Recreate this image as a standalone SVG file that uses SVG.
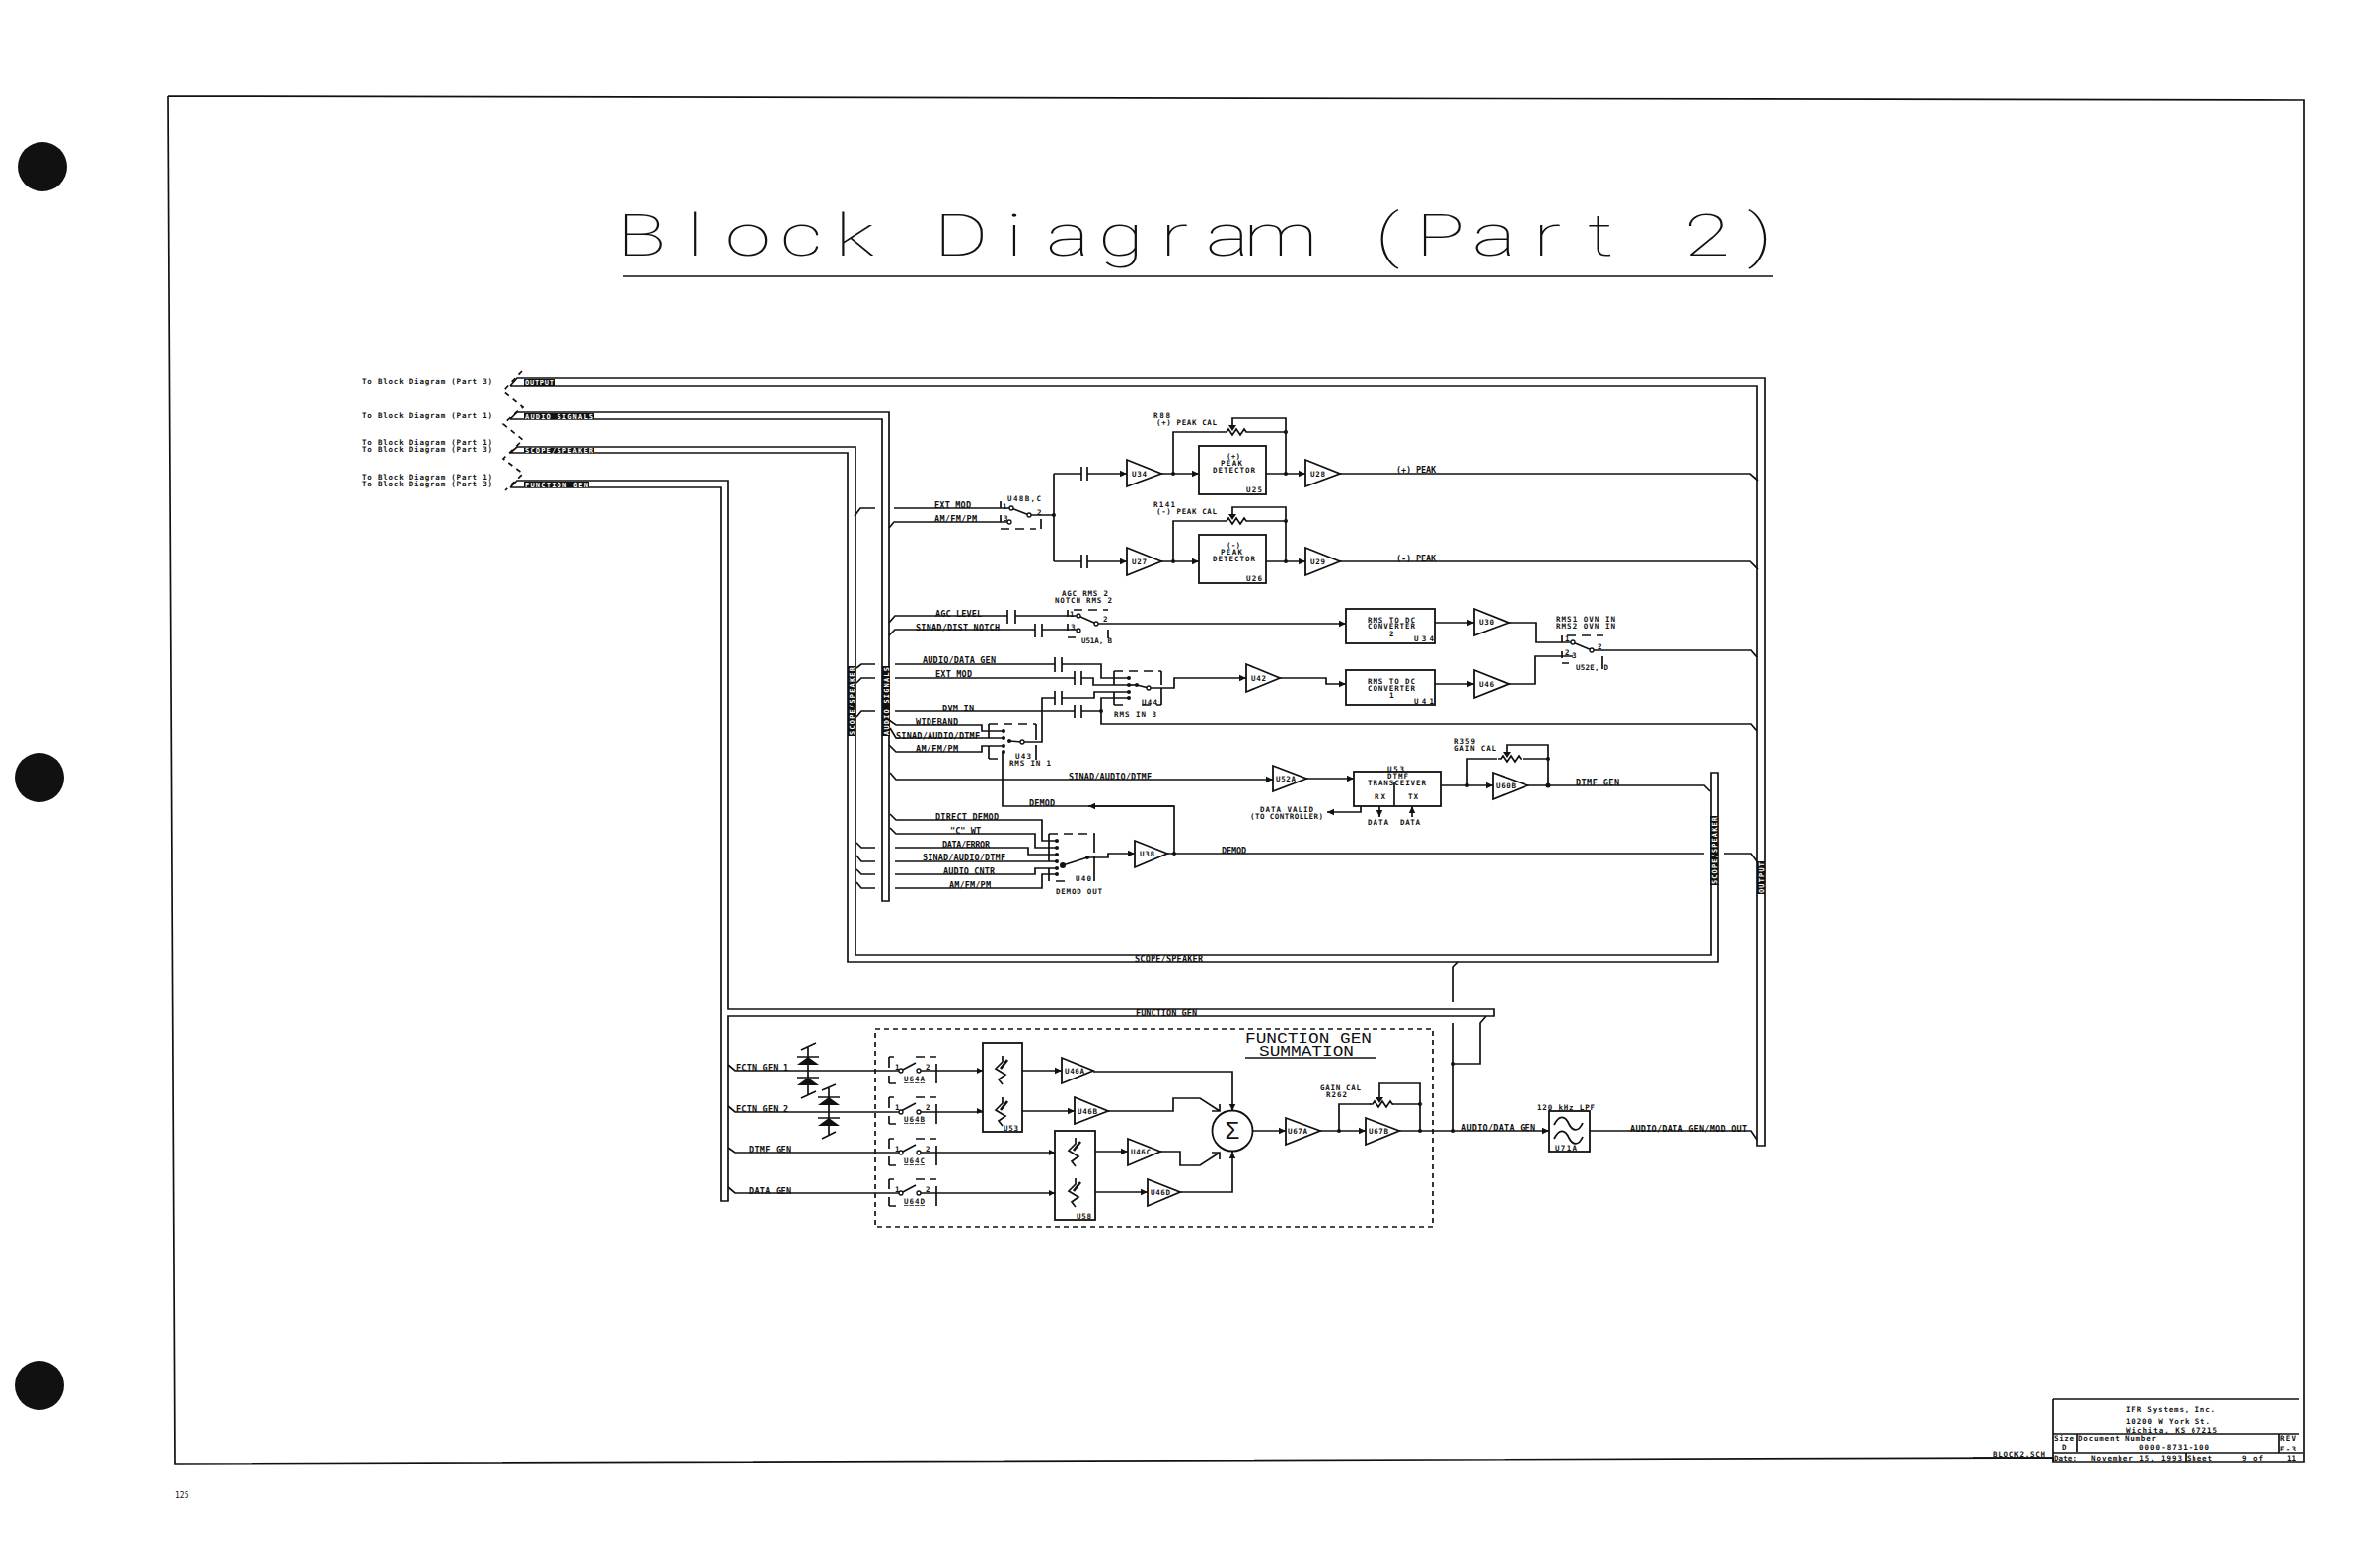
<svg xmlns="http://www.w3.org/2000/svg" width="2412" height="1584" viewBox="0 0 2412 1584">
<style>
text{font-family:"DejaVu Sans Mono","Liberation Mono",monospace;fill:#111}
.b{font-size:8.5px;font-weight:700}
.n{font-size:8px}
.s{font-size:7.5px;font-weight:700}
.w{font-size:7px;font-weight:700;fill:#fff}
.f{font-size:15px;font-family:"Liberation Mono",monospace;font-weight:400}
.ti{font-family:Roboto,"Liberation Sans",sans-serif;font-size:60px;font-weight:100;text-anchor:middle}
.l,.c path,.c use{fill:none;stroke:#111;stroke-width:1.7}
.th{fill:none;stroke:#111;stroke-width:1.3}
.amp,.box{fill:#fff;stroke:#111;stroke-width:1.8}
.ds{fill:none;stroke:#111;stroke-width:1.6;stroke-dasharray:9 6}
.dd{fill:none;stroke:#111;stroke-width:1.7;stroke-dasharray:5 4}
.d{fill:#111}
.o{fill:#fff;stroke:#111;stroke-width:1.3}
.k{fill:#111;stroke:none}
</style>
<defs>
<marker id="a" markerUnits="userSpaceOnUse" markerWidth="8" markerHeight="8" refX="7" refY="4" orient="auto"><path d="M0 .8L7 4L0 7.2Z" fill="#111"/></marker>
<path id="pot" d="M0 0l3 0l2 -3l4 6l4 -6l4 6l4 -6l2 3l1 0" class="l"/>
<g id="att"><path class="l" d="M1 -14L1 -8L-6 -1L4 5L-3 10L1 15"/><path class="l" style="stroke-width:2.6" d="M-1 -1L6 -10"/></g>
</defs>
<rect width="2412" height="1584" fill="#fff"/>
<g id="sheet-marks"><circle class="d" cx="43" cy="169" r="25"/><circle class="d" cx="40" cy="788" r="25"/><circle class="d" cx="40" cy="1404" r="25"/></g>
<g id="frame"><path class="l" d="M170 97L2335 101V1482H2081V1478L177 1484L170 97"/></g>
<g id="title"><text class="ti" transform="scale(1.4 1)" x="464.300 502.900 541.400 580 618.600 657.100 695.700 734.300 772.900 811.400 850 888.600 927.100 965.700 1004.300 1042.900 1081.400 1120 1158.600 1197.100 1235.700 1274.300" y="259">Block Diagram (Part 2)</text><path class="l" d="M631 280H1797"/></g>

<g id="connectors" class="c">
<!-- buses -->
<path d="M517 391L524 383H1789V1161H1781V391H517"/>
<path d="M517 425L524 418H901V913H894V425H517"/>
<path d="M517 459L524 453H867V968H1734V783H1741V975H859V459H517"/>
<path d="M517 494L524 487H738V1023H1514V1030H738V1217H731V494H517"/>
<path style="stroke-dasharray:5 5" d="M529 376L510 396L530 412L510 430L530 446L510 465L530 480L512 497"/>
<!-- stubs and peak path -->
<path d="M866 523L872 515H887M906 515H1025"/>
<path d="M901 535L906 529H1023"/>
<path d="M1043 522H1068M1068 480V569M1068 480H1096M1068 569H1096"/>
<path d="M1102 480H1142" marker-end="url(#a)"/>
<path d="M1102 569H1142" marker-end="url(#a)"/>
<path d="M1177 480H1215" marker-end="url(#a)"/>
<path d="M1177 569H1215" marker-end="url(#a)"/>
<path d="M1283 480H1323" marker-end="url(#a)"/>
<path d="M1283 569H1323" marker-end="url(#a)"/>
<path d="M1358 480H1774L1782 487M1358 569H1774L1782 577"/>
<path d="M1189 480V438H1240M1264 438H1303V480M1303 438V424H1249V433"/>
<path d="M1189 569V528H1240M1264 528H1303V569M1303 528V514H1249V523"/>
<!-- AGC -->
<path d="M901 631L907 624H1021M1029 624H1093"/>
<path d="M901 644L907 638H1049M1056 638H1093"/>
<path d="M1111 632H1364" marker-end="url(#a)"/>
<path d="M1454 631H1494" marker-end="url(#a)"/>
<path d="M1454 693H1494" marker-end="url(#a)"/>
<path d="M1529 631H1557V651H1594M1529 693H1556V665H1594M1613 659H1775L1781 666"/>
<!-- U44 -->
<path d="M868 677L873 673H887M907 673H1069M1076 673H1116V687H1144"/>
<path d="M868 692L873 687H887M907 687H1089M1096 687H1108V694H1144"/>
<path d="M868 727L873 721H887M907 721H1089M1096 721H1116V707H1144M1116 721V734H1775L1781 741"/>
<path d="M1036 752H1056V707H1069M1076 707H1109V701H1144"/>
<path d="M1164 697H1190V687H1263" marker-end="url(#a)"/>
<path d="M1297 687H1344V693H1364" marker-end="url(#a)"/>
<!-- U43 -->
<path d="M901 730L908 735H995V741H1017"/>
<path d="M902 738L908 748H1017"/>
<path d="M901 755L908 762H995V756H1017"/>
<path d="M1016 762V817H1190V865"/>
<path d="M1190 817H1103" marker-end="url(#a)"/>
<path d="M902 783L908 790H1290" marker-end="url(#a)"/>
<path d="M1324 789H1372" marker-end="url(#a)"/>
<path d="M1460 796H1513" marker-end="url(#a)"/>
<path d="M1548 796H1727L1733 802M1487 796V769H1517M1543 769H1569V796M1569 769V755H1527V765"/>
<path d="M1379 817V823H1345" marker-end="url(#a)"/>
<path d="M1398 817V828" marker-end="url(#a)"/>
<path d="M1431 828V817" marker-end="url(#a)"/>
<!-- U40 -->
<path d="M902 825L908 831H1056V852H1071"/>
<path d="M902 839L908 845H1049V859H1071"/>
<path d="M868 854L873 859H887M907 859H1042V866H1071"/>
<path d="M868 867L873 873H887M907 873H1071"/>
<path d="M868 881L873 886H887M907 886H1049V880H1071"/>
<path d="M868 894L873 900H887M907 900H1056V886H1071"/>
<path d="M1102 869H1123V865H1150" marker-end="url(#a)"/>
<path d="M1183 865H1727M1747 865H1775L1781 873"/>
<!-- function gen -->
<path d="M738 1079L745 1085H913M931 1085H996" />
<path d="M738 1121L745 1127H913M931 1127H996"/>
<path d="M738 1163L745 1168H913M931 1168H1069"/>
<path d="M738 1203L745 1209H913M931 1209H1069"/>
<path d="M1036 1085H1076" marker-end="url(#a)"/>
<path d="M1036 1126H1089" marker-end="url(#a)"/>
<path d="M1110 1167H1143" marker-end="url(#a)"/>
<path d="M1110 1208H1163" marker-end="url(#a)"/>
<path d="M1108 1086H1249V1126" marker-end="url(#a)"/>
<path d="M1196 1208H1249V1167" marker-end="url(#a)"/>
<path d="M1123 1126H1189V1113H1216L1236 1126M1236 1119V1126H1228"/>
<path d="M1176 1167H1196V1181H1216L1236 1168M1236 1175V1168H1228"/>
<path d="M1270 1146H1303" marker-end="url(#a)"/>
<path d="M1338 1146H1384" marker-end="url(#a)"/>
<path d="M1418 1146H1570" marker-end="url(#a)"/>
<path d="M1357 1146V1119H1389M1411 1119H1439V1146M1439 1119V1098H1398V1115"/>
<path d="M1478 975L1473 980V1015M1473 1037V1146M1473 1078H1500V1037L1506 1030"/>
<path d="M1611 1146H1775L1781 1155"/>
</g>

<g id="bus-labels">
<rect class="k" x="531" y="384" width="31" height="7"/><text class="w" x="532" y="390" textLength="29">OUTPUT</text>
<rect class="k" x="531" y="419" width="71" height="6"/><text class="w" x="532" y="425" textLength="69">AUDIO SIGNALS</text>
<rect class="k" x="531" y="454" width="71" height="5"/><text class="w" x="532" y="459" textLength="69">SCOPE/SPEAKER</text>
<rect class="k" x="531" y="488" width="66" height="6"/><text class="w" x="532" y="494" textLength="64">FUNCTION GEN</text>
<rect class="k" x="859" y="675" width="8" height="71"/><text class="w" transform="translate(865.500 745) rotate(-90)" textLength="69">SCOPE/SPEAKER</text>
<rect class="k" x="894" y="675" width="8" height="71"/><text class="w" transform="translate(900.500 745) rotate(-90)" textLength="69">AUDIO SIGNALS</text>
<rect class="k" x="1733" y="827" width="8" height="70"/><text class="w" transform="translate(1739.500 896) rotate(-90)" textLength="68">SCOPE/SPEAKER</text>
<rect class="k" x="1781" y="873" width="8" height="33"/><text class="w" transform="translate(1787.500 905) rotate(-90)" textLength="31">OUTPUT</text>
<text class="b" x="1150" y="975" textLength="69">SCOPE/SPEAKER</text>
<text class="b" x="1151" y="1030" textLength="62">FUNCTION GEN</text>
<text class="s" x="367" y="389" textLength="132">To Block Diagram (Part 3)</text>
<text class="s" x="367" y="424" textLength="132">To Block Diagram (Part 1)</text>
<text class="s" x="367" y="451" textLength="132">To Block Diagram (Part 1)</text>
<text class="s" x="367" y="458" textLength="132">To Block Diagram (Part 3)</text>
<text class="s" x="367" y="486" textLength="132">To Block Diagram (Part 1)</text>
<text class="s" x="367" y="493" textLength="132">To Block Diagram (Part 3)</text>
</g>

<g id="wire-labels">
<text class="b" x="947" y="515" textLength="37">EXT MOD</text>
<text class="b" x="947" y="529" textLength="43">AM/FM/PM</text>
<text class="b" x="1415" y="479" textLength="40">(+) PEAK</text>
<text class="b" x="1415" y="569" textLength="40">(-) PEAK</text>
<text class="b" x="948" y="625" textLength="47">AGC LEVEL</text>
<text class="b" x="928" y="639" textLength="85">SINAD/DIST NOTCH</text>
<text class="b" x="935" y="672" textLength="74">AUDIO/DATA GEN</text>
<text class="b" x="948" y="686" textLength="37">EXT MOD</text>
<text class="b" x="955" y="721" textLength="32">DVM IN</text>
<text class="b" x="928" y="735" textLength="43">WIDEBAND</text>
<text class="b" x="908" y="749" textLength="85">SINAD/AUDIO/DTMF</text>
<text class="b" x="928" y="762" textLength="43">AM/FM/PM</text>
<text class="b" x="1083" y="790" textLength="84">SINAD/AUDIO/DTMF</text>
<text class="b" x="1043" y="817" textLength="26">DEMOD</text>
<text class="b" x="948" y="831" textLength="64">DIRECT DEMOD</text>
<text class="b" x="963" y="845" textLength="31">"C" WT</text>
<text class="b" x="955" y="859" textLength="48">DATA/ERROR</text>
<text class="b" x="935" y="872" textLength="84">SINAD/AUDIO/DTMF</text>
<text class="b" x="956" y="886" textLength="52">AUDIO CNTR</text>
<text class="b" x="962" y="900" textLength="42">AM/FM/PM</text>
<text class="b" x="1238" y="865" textLength="25">DEMOD</text>
<text class="b" x="1597" y="796" textLength="44">DTMF GEN</text>
<text class="b" x="746" y="1085" textLength="53">FCTN GEN 1</text>
<text class="b" x="746" y="1127" textLength="53">FCTN GEN 2</text>
<text class="b" x="759" y="1168" textLength="43">DTMF GEN</text>
<text class="b" x="759" y="1210" textLength="43">DATA GEN</text>
<text class="b" x="1481" y="1146" textLength="75">AUDIO/DATA GEN</text>
<text class="b" x="1652" y="1147" textLength="118">AUDIO/DATA GEN/MOD OUT</text>
</g>

<g id="cap-group" class="c">
<path d="M1096 473V487M1102 473V487M1096 562V576M1102 562V576M1021 618V632M1029 618V632M1049 632V646M1056 632V646M1069 666V681M1076 666V681M1089 680V694M1096 680V694M1069 700V714M1076 700V714M1089 714V728M1096 714V728"/>
</g>

<g id="U34"><polygon class="amp" points="1142,466 1177,480 1142,493"/><text class="s" x="1147" y="483" textLength="15">U34</text></g>
<g id="U28"><polygon class="amp" points="1323,466 1358,480 1323,493"/><text class="s" x="1328" y="483" textLength="15">U28</text></g>
<g id="U27"><polygon class="amp" points="1142,555 1177,569 1142,583"/><text class="s" x="1147" y="572" textLength="15">U27</text></g>
<g id="U29"><polygon class="amp" points="1323,555 1358,569 1323,583"/><text class="s" x="1328" y="572" textLength="15">U29</text></g>
<g id="U25"><rect class="box" x="1215" y="452" width="68" height="49"/><text class="s" x="1243" y="465" textLength="14">(+)</text><text class="s" x="1237" y="472" textLength="22">PEAK</text><text class="s" x="1229" y="479" textLength="43">DETECTOR</text><text class="s" x="1263" y="499" textLength="16">U25</text></g>
<g id="U26"><rect class="box" x="1215" y="542" width="68" height="49"/><text class="s" x="1243" y="555" textLength="14">(-)</text><text class="s" x="1237" y="562" textLength="22">PEAK</text><text class="s" x="1229" y="569" textLength="43">DETECTOR</text><text class="s" x="1263" y="589" textLength="16">U26</text></g>
<g id="R88"><use href="#pot" x="1240" y="438"/><path class="k" d="M1245 431H1253L1249 437Z"/><text class="s" x="1169" y="424" textLength="17">R88</text><text class="s" x="1172" y="431" textLength="61">(+) PEAK CAL</text></g>
<g id="R141"><use href="#pot" x="1240" y="528"/><path class="k" d="M1245 521H1253L1249 527Z"/><text class="s" x="1169" y="514" textLength="22">R141</text><text class="s" x="1172" y="521" textLength="61">(-) PEAK CAL</text></g>

<g id="U48BC">
<path class="l" d="M1014 508V515M1014 522V529M1055 526V536M1025 515L1043 522"/><path class="ds" d="M1014 536H1050"/>
<circle class="o" cx="1025" cy="515" r="2"/><circle class="o" cx="1023" cy="529" r="2"/><circle class="o" cx="1043" cy="522" r="2"/><circle class="d" cx="1068" cy="522" r="2"/>
<text class="s" x="1021" y="508" textLength="34">U48B,C</text><text class="s" x="1016" y="516">1</text><text class="s" x="1017" y="528">3</text><text class="s" x="1051" y="522">2</text>
</g>
<g id="U51AB">
<path class="l" d="M1082 618V625M1082 632V639M1123 638V647M1093 624L1111 632"/><path class="ds" d="M1088 618H1123M1082 646H1090"/>
<circle class="o" cx="1093" cy="624" r="2"/><circle class="o" cx="1093" cy="639" r="2"/><circle class="o" cx="1111" cy="632" r="2"/>
<text class="s" x="1076" y="604" textLength="47">AGC RMS 2</text><text class="s" x="1069" y="611" textLength="58">NOTCH RMS 2</text><text class="s" x="1096" y="652" textLength="31">U51A, B</text><text class="s" x="1084" y="625">1</text><text class="s" x="1085" y="638">3</text><text class="s" x="1118" y="630">2</text>
</g>
<g id="U34box"><rect class="box" x="1364" y="617" width="90" height="35"/><text class="s" x="1386" y="631" textLength="48">RMS TO DC</text><text class="s" x="1386" y="637" textLength="48">CONVERTER</text><text class="s" x="1408" y="645" textLength="5">2</text><text class="s" x="1433" y="650" textLength="20">U34</text></g>
<g id="U41box"><rect class="box" x="1364" y="679" width="90" height="35"/><text class="s" x="1386" y="693" textLength="48">RMS TO DC</text><text class="s" x="1386" y="700" textLength="48">CONVERTER</text><text class="s" x="1408" y="707" textLength="5">1</text><text class="s" x="1433" y="713" textLength="20">U41</text></g>
<g id="U30"><polygon class="amp" points="1494,617 1529,631 1494,644"/><text class="s" x="1499" y="633" textLength="15">U30</text></g>
<g id="U46x"><polygon class="amp" points="1494,679 1529,693 1494,707"/><text class="s" x="1499" y="696" textLength="15">U46</text></g>
<g id="U42"><polygon class="amp" points="1263,673 1297,687 1263,701"/><text class="s" x="1268" y="690" textLength="15">U42</text></g>
<g id="U50">
<path class="l" d="M1583 644V651M1583 660V667M1624 665V678M1594 651L1613 659"/><path class="ds" d="M1588 644H1625M1583 672H1590"/>
<circle class="o" cx="1594" cy="651" r="2"/><circle class="o" cx="1613" cy="659" r="2"/>
<text class="s" x="1577" y="630" textLength="60">RMS1 OVN IN</text><text class="s" x="1577" y="637" textLength="60">RMS2 OVN IN</text><text class="s" x="1597" y="679" textLength="33">U52E, D</text><text class="s" x="1586" y="650">1</text><text class="s" x="1586" y="664">2</text><text class="s" x="1593" y="667">3</text><text class="s" x="1619" y="658">2</text>
</g>
<g id="U44">
<path class="ds" d="M1129 680H1177M1129 714H1141M1157 714H1177"/>
<path class="l" d="M1129 680V694M1129 701V714M1177 680V694M1177 697V714M1152 694L1164 697"/>
<circle class="d" cx="1144" cy="687" r="2"/><circle class="d" cx="1144" cy="694" r="2"/><circle class="d" cx="1144" cy="701" r="2"/><circle class="d" cx="1144" cy="707" r="2"/><circle class="d" cx="1152" cy="694" r="2"/><circle class="o" cx="1164" cy="697" r="2"/><circle class="d" cx="1116" cy="721" r="2"/>
<path class="l" d="M1144 694H1152"/><text class="s" x="1157" y="714" textLength="16">U44</text><text class="s" x="1129" y="727" textLength="43">RMS IN 3</text>
</g>
<g id="U43">
<path class="ds" d="M1002 734H1050M1002 769H1012"/>
<path class="l" d="M1002 734V748M1002 756V769M1050 734V750M1050 755V770M1023 751L1036 752"/>
<circle class="d" cx="1017" cy="741" r="2"/><circle class="d" cx="1017" cy="748" r="2"/><circle class="d" cx="1017" cy="756" r="2"/><circle class="d" cx="1017" cy="762" r="2"/><circle class="d" cx="1023" cy="751" r="2"/><circle class="o" cx="1036" cy="752" r="2"/>
<text class="s" x="1029" y="769" textLength="16">U43</text><text class="s" x="1023" y="776" textLength="42">RMS IN 1</text>
</g>
<g id="U40">
<path class="ds" d="M1063 845H1110M1070 893H1083"/>
<path class="l" d="M1063 845V873M1063 880V893M1109 845V864M1109 867V893M1077 877L1102 869"/>
<circle class="d" cx="1071" cy="852" r="2"/><circle class="d" cx="1071" cy="859" r="2"/><circle class="d" cx="1071" cy="866" r="2"/><circle class="d" cx="1071" cy="873" r="2"/><circle class="d" cx="1071" cy="880" r="2"/><circle class="d" cx="1071" cy="886" r="2"/><circle class="d" cx="1077" cy="877" r="3"/><circle class="d" cx="1102" cy="869" r="2"/>
<text class="s" x="1090" y="893" textLength="16">U40</text><text class="s" x="1070" y="906" textLength="47">DEMOD OUT</text>
</g>
<g id="U38"><polygon class="amp" points="1150,852 1183,865 1150,879"/><text class="s" x="1155" y="868" textLength="15">U38</text><circle class="d" cx="1190" cy="865" r="2"/></g>
<g id="U52A"><polygon class="amp" points="1290,776 1324,789 1290,802"/><text class="s" x="1293" y="792" textLength="20">U52A</text></g>
<g id="U53-DTMF"><rect class="box" x="1372" y="782" width="88" height="35"/><path class="l" d="M1413 793V817"/>
<text class="s" x="1406" y="782" textLength="17">U53</text><text class="s" x="1406" y="789" textLength="21">DTMF</text><text class="s" x="1386" y="796" textLength="59">TRANSCEIVER</text><text class="s" x="1393" y="810" textLength="11">RX</text><text class="s" x="1427" y="810" textLength="10">TX</text>
<text class="s" x="1386" y="836" textLength="21">DATA</text><text class="s" x="1419" y="836" textLength="20">DATA</text>
<text class="s" x="1277" y="823" textLength="54">DATA VALID</text><text class="s" x="1267" y="830" textLength="74">(TO CONTROLLER)</text></g>
<g id="U60B"><polygon class="amp" points="1513,783 1548,796 1513,810"/><text class="s" x="1516" y="799" textLength="20">U60B</text><circle class="d" cx="1487" cy="796" r="2"/><circle class="d" cx="1569" cy="796" r="2.500"/><circle class="d" cx="1569" cy="769" r="2"/></g>
<g id="R359"><use href="#pot" x="1518" y="769"/><path class="k" d="M1523 762H1531L1527 768Z"/><text class="s" x="1474" y="754" textLength="21">R359</text><text class="s" x="1474" y="761" textLength="42">GAIN CAL</text></g>
<g id="peak-junctions"><circle class="d" cx="1189" cy="480" r="2"/><circle class="d" cx="1303" cy="480" r="2"/><circle class="d" cx="1303" cy="438" r="2"/><circle class="d" cx="1189" cy="569" r="2"/><circle class="d" cx="1303" cy="569" r="2"/><circle class="d" cx="1303" cy="528" r="2"/></g>

<g id="summation">
<rect x="887" y="1043" width="565" height="200" class="dd"/>
<text class="f" x="1262" y="1057" textLength="128" lengthAdjust="spacingAndGlyphs">FUNCTION GEN</text><text class="f" x="1276" y="1070" textLength="96" lengthAdjust="spacingAndGlyphs">SUMMATION</text><path class="th" d="M1262 1072H1394"/>
</g>
<g id="diodes">
<path class="l" d="M812 1064L827 1057M819 1060V1110M812 1113L827 1106M808 1071H830M808 1092H830M833 1105L847 1099M840 1102V1151M833 1154L847 1147M829 1112H851M829 1133H851"/>
<path class="k" d="M819 1071L808 1079H830ZM819 1092L808 1100H830ZM840 1112L829 1120H851ZM840 1133L829 1141H851Z"/>
</g>
<g id="U64A"><path class="l" d="M901 1071V1082M901 1090V1098M949 1078V1098M913 1085L928 1077"/><path class="ds" d="M901 1071H906M928 1071H949M901 1098H908"/><circle class="o" cx="913" cy="1085" r="2"/><circle class="o" cx="931" cy="1085" r="2"/><text class="s" x="907" y="1084">1</text><text class="s" x="938" y="1084">2</text><text class="s" x="916" y="1096" textLength="21" text-decoration="underline">U64A</text></g>
<g id="U64B"><path class="l" d="M901 1112V1123M901 1131V1139M949 1119V1139M913 1126L928 1118"/><path class="ds" d="M901 1112H906M928 1112H949M901 1139H908"/><circle class="o" cx="913" cy="1127" r="2"/><circle class="o" cx="931" cy="1127" r="2"/><text class="s" x="907" y="1125">1</text><text class="s" x="938" y="1125">2</text><text class="s" x="916" y="1137" textLength="21" text-decoration="underline">U64B</text></g>
<g id="U64C"><path class="l" d="M901 1154V1164M901 1172V1181M949 1161V1181M913 1168L928 1160"/><path class="ds" d="M901 1154H906M928 1154H949M901 1181H908"/><circle class="o" cx="913" cy="1168" r="2"/><circle class="o" cx="931" cy="1168" r="2"/><text class="s" x="907" y="1167">1</text><text class="s" x="938" y="1167">2</text><text class="s" x="916" y="1179" textLength="21" text-decoration="underline">U64C</text></g>
<g id="U64D"><path class="l" d="M901 1195V1205M901 1213V1222M949 1202V1222M913 1209L928 1201"/><path class="ds" d="M901 1195H906M928 1195H949M901 1222H908"/><circle class="o" cx="913" cy="1209" r="2"/><circle class="o" cx="931" cy="1209" r="2"/><text class="s" x="907" y="1208">1</text><text class="s" x="938" y="1208">2</text><text class="s" x="916" y="1220" textLength="21" text-decoration="underline">U64D</text></g>
<g id="U53"><rect class="box" x="996" y="1057" width="40" height="90"/><use href="#att" x="1015" y="1084"/><use href="#att" x="1015" y="1126"/><text class="s" x="1017" y="1146" textLength="15">U53</text><path class="k" d="M996 1085l-6 -3v6ZM996 1126l-6 -3v6Z"/></g>
<g id="U58"><rect class="box" x="1069" y="1146" width="41" height="90"/><use href="#att" x="1089" y="1167"/><use href="#att" x="1089" y="1208"/><text class="s" x="1091" y="1235" textLength="15">U58</text><path class="k" d="M1069 1168l-6 -3v6ZM1069 1209l-6 -3v6Z"/></g>
<g id="U46A"><polygon class="amp" points="1076,1072 1108,1085 1076,1098"/><text class="s" x="1079" y="1088" textLength="20">U46A</text></g>
<g id="U46B"><polygon class="amp" points="1089,1112 1123,1126 1089,1139"/><text class="s" x="1092" y="1129" textLength="20">U46B</text></g>
<g id="U46C"><polygon class="amp" points="1143,1154 1176,1167 1143,1181"/><text class="s" x="1146" y="1170" textLength="20">U46C</text></g>
<g id="U46D"><polygon class="amp" points="1163,1195 1196,1208 1163,1222"/><text class="s" x="1166" y="1211" textLength="20">U46D</text></g>
<g id="sum"><circle class="box" cx="1249" cy="1146" r="20.500"/><text x="1249" y="1154" text-anchor="middle" style="font-family:'Liberation Sans',sans-serif;font-size:24px">Σ</text></g>
<g id="U67A"><polygon class="amp" points="1303,1133 1338,1146 1303,1160"/><text class="s" x="1305" y="1149" textLength="20">U67A</text><circle class="d" cx="1357" cy="1146" r="2"/></g>
<g id="U67B"><polygon class="amp" points="1384,1133 1418,1146 1384,1160"/><text class="s" x="1387" y="1149" textLength="20">U67B</text><circle class="d" cx="1439" cy="1146" r="2"/><circle class="d" cx="1439" cy="1119" r="2"/><circle class="d" cx="1473" cy="1146" r="2"/><circle class="d" cx="1473" cy="1078" r="2"/></g>
<g id="R262"><use href="#pot" x="1388" y="1119"/><path class="k" d="M1394 1112H1402L1398 1118Z"/><text class="s" x="1338" y="1105" textLength="41">GAIN CAL</text><text class="s" x="1344" y="1112" textLength="21">R262</text></g>
<g id="U71A"><rect class="box" x="1570" y="1126" width="41" height="41"/><path class="th" style="stroke-width:1.8" d="M1575 1140C1580 1130 1586 1130 1590 1139C1594 1147 1600 1147 1604 1138M1575 1154C1580 1144 1586 1144 1590 1153C1594 1161 1600 1161 1604 1152"/><text class="s" x="1558" y="1125" textLength="58">120 kHz LPF</text><text class="s" x="1576" y="1166" textLength="22">U71A</text></g>

<g id="title-block">
<path class="l" d="M2081 1418H2330M2081 1418V1482M2081 1453H2330M2081 1473H2334M2105 1453V1472M2310 1453V1473M2215 1473V1482M2000 1478H2081"/>
<text class="s" x="2155" y="1431" textLength="90">IFR Systems, Inc.</text>
<text class="s" x="2155" y="1443" textLength="85">10200 W York St.</text>
<text class="s" x="2155" y="1452" textLength="92">Wichita, KS 67215</text>
<text class="s" x="2082" y="1460" textLength="20">Size</text><text class="s" x="2106" y="1460" textLength="79">Document Number</text>
<text class="s" x="2090" y="1469" textLength="6">D</text><text class="s" x="2168" y="1469" textLength="71">0000-8731-100</text>
<text class="s" x="2311" y="1460" textLength="16">REV</text><text class="s" x="2311" y="1471" textLength="16">E-3</text>
<text class="s" x="2020" y="1477" textLength="52">BLOCK2.SCH</text><text class="s" x="2082" y="1481" textLength="23">Date:</text><text class="s" x="2119" y="1481" textLength="92">November 15, 1993</text><text class="s" x="2216" y="1481" textLength="26">Sheet</text><text class="s" x="2272" y="1481" textLength="21">9 of</text><text class="s" x="2318" y="1481" textLength="9">11</text>
</g>
<g id="page-number"><text class="n" x="177" y="1518">125</text></g>
</svg>
